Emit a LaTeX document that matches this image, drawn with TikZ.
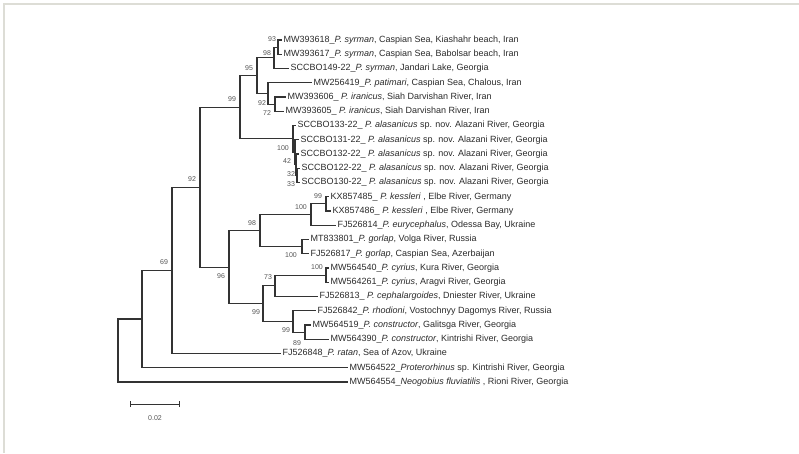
\documentclass[tikz,border=0pt]{standalone}
\usepackage{fontspec}
\setmainfont{Liberation Sans}
\usetikzlibrary{arrows.meta}

\definecolor{treeline}{HTML}{333333}
\definecolor{labelgray}{HTML}{2A2A2A}
\definecolor{bootgray}{HTML}{555555}
\definecolor{framegray}{HTML}{DDDDD6}

\tikzset{
  branch/.style={draw=treeline, line width=1.1pt},
  leaf/.style={anchor=west, inner sep=1.5pt, text=labelgray, font=\fontsize{9}{10}\selectfont},
  boot/.style={inner sep=0pt, text=bootgray, font=\fontsize{7}{8}\selectfont}
}

\begin{document}
\begin{tikzpicture}[x=1pt, y=-1pt]
    \useasboundingbox (0,0) rectangle (799,453);

    % Frame of the figure
    \draw[framegray, line width=1.5pt] (799,4) -- (4,4) -- (4,453);

    % Leaves: tip x, then label (rows 14.25 apart)
    \foreach \x/\txt [count=\i] in {
        282/{MW393618\_\textit{P. syrman}, Caspian Sea, Kiashahr beach, Iran},
        282/{MW393617\_\textit{P. syrman}, Caspian Sea, Babolsar beach, Iran},
        289/{SCCBO149-22\_\textit{P. syrman}, Jandari Lake, Georgia},
        312/{MW256419\_\textit{P. patimari}, Caspian Sea, Chalous, Iran},
        286/{MW393606\_ \textit{P. iranicus}, Siah Darvishan River, Iran},
        284/{MW393605\_ \textit{P. iranicus}, Siah Darvishan River, Iran},
        296/{SCCBO133-22\_ \textit{P. alasanicus} sp. nov. Alazani River, Georgia},
        299/{SCCBO131-22\_ \textit{P. alasanicus} sp. nov. Alazani River, Georgia},
        299/{SCCBO132-22\_ \textit{P. alasanicus} sp. nov. Alazani River, Georgia},
        300/{SCCBO122-22\_ \textit{P. alasanicus} sp. nov. Alazani River, Georgia},
        300/{SCCBO130-22\_ \textit{P. alasanicus} sp. nov. Alazani River, Georgia},
        329/{KX857485\_ \textit{P. kessleri} , Elbe River, Germany},
        331/{KX857486\_ \textit{P. kessleri} , Elbe River, Germany},
        336/{FJ526814\_\textit{P. eurycephalus}, Odessa Bay, Ukraine},
        309/{MT833801\_\textit{P. gorlap}, Volga River, Russia},
        309/{FJ526817\_\textit{P. gorlap}, Caspian Sea, Azerbaijan},
        329/{MW564540\_\textit{P. cyrius}, Kura River, Georgia},
        329/{MW564261\_\textit{P. cyrius}, Aragvi River, Georgia},
        318/{FJ526813\_ \textit{P. cephalargoides}, Dniester River, Ukraine},
        316/{FJ526842\_\textit{P. rhodioni}, Vostochnyy Dagomys River, Russia},
        311/{MW564519\_\textit{P. constructor}, Galitsga River, Georgia},
        329/{MW564390\_\textit{P. constructor}, Kintrishi River, Georgia},
        281/{FJ526848\_\textit{P. ratan}, Sea of Azov, Ukraine},
        348/{MW564522\_\textit{Proterorhinus} sp. Kintrishi River, Georgia},
        348/{MW564554\_\textit{Neogobius fluviatilis} , Rioni River, Georgia}} {
        \node[leaf] (L\i) at (\x,{40+(\i-1)*14.25}) {\txt};
    }

    % Internal nodes
    \coordinate (root) at (118,350.5);
    \coordinate (n69)  at (142,319);
    \coordinate (n92)  at (172,270.3);
    \coordinate (n99a) at (200,187.2);
    \coordinate (n99b) at (240,107.2);
    \coordinate (n95)  at (257,75.6);
    \coordinate (n98a) at (274,57.8);
    \coordinate (n93)  at (278,47.1);
    \coordinate (n92b) at (268,93.4);
    \coordinate (n72)  at (275,104.1);
    \coordinate (n100a) at (293,138.9);
    \coordinate (n42)  at (295,152.2);
    \coordinate (n32)  at (296,164.7);
    \coordinate (n33)  at (297,175.4);
    \coordinate (n96)  at (229,267.1);
    \coordinate (n98b) at (260,230.6);
    \coordinate (n100k) at (311,214.6);
    \coordinate (n99k) at (326,203.9);
    \coordinate (n100g) at (302,246.6);
    \coordinate (n99c) at (263,303.6);
    \coordinate (n73)  at (275,285.8);
    \coordinate (n100c) at (326,275.1);
    \coordinate (n99r) at (293,321.4);
    \coordinate (n89)  at (305,332.1);

    % Branches, parent to child
    \foreach \p/\c in {root/n69, root/L25.west, n69/n92, n69/L24.west,
        n92/n99a, n92/L23.west, n99a/n99b, n99a/n96,
        n99b/n95, n99b/n100a, n95/n98a, n95/n92b,
        n98a/n93, n98a/L3.west, n93/L1.west, n93/L2.west,
        n92b/L4.west, n92b/n72, n72/L5.west, n72/L6.west,
        n100a/L7.west, n100a/n42, n42/L8.west, n42/n32,
        n32/L9.west, n32/n33, n33/L10.west, n33/L11.west,
        n96/n98b, n96/n99c, n98b/n100k, n98b/n100g,
        n100k/n99k, n100k/L14.west, n99k/L12.west, n99k/L13.west,
        n100g/L15.west, n100g/L16.west, n99c/n73, n99c/n99r,
        n73/n100c, n73/L19.west, n100c/L17.west, n100c/L18.west,
        n99r/L20.west, n99r/n89, n89/L21.west, n89/L22.west} {
        \draw[branch] (\p) |- (\c);
    }

    % Bootstrap values
    \foreach \bx/\by/\v [count=\k] in {272/39/93, 267/53/98, 249/68/95, 232/99/99,
        262/103/92, 267/113/72, 283/148/100, 287/161/42, 291/174/32, 291/184/33,
        192/179/92, 318/196/99, 301/207/100, 252/223/98, 291/255/100, 221/276/96,
        317/267/100, 268/277/73, 256/312/99, 286/330/99, 297/343/89, 164/262/69} {
        \node[boot] (B\k) at (\bx,\by) {\v};
    }

    % Scale bar
    \coordinate (sbL) at (130,404);
    \coordinate (sbR) at (180,404);
    \draw[branch, line width=0.9pt, {Bar[width=6pt]}-{Bar[width=6pt]}] (sbL) -- (sbR);
    \node[boot] (sbtext) at (155,418) {0.02};
\end{tikzpicture}
\end{document}
